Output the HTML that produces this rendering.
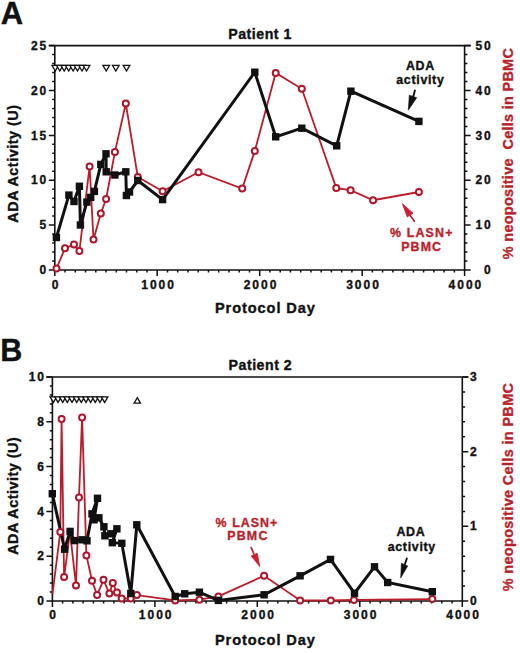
<!DOCTYPE html>
<html><head><meta charset="utf-8"><title>ADA activity and LASN+ PBMC</title>
<style>
html,body{margin:0;padding:0;background:#fff;}
body{width:520px;height:653px;overflow:hidden;}
svg{display:block;font-family:"Liberation Sans",sans-serif;}
</style></head>
<body>
<svg width="520" height="653" viewBox="0 0 520 653">
<rect width="520" height="653" fill="#fff"/>
<path d="M54.8 45.6V270H464.6V45.6" fill="none" stroke="#111" stroke-width="1.6"/>
<path d="M48.8 45.6H470.6" fill="none" stroke="#111" stroke-width="1.6"/>
<path d="M54.8 270v6 M65 270v2.6 M75.3 270v2.6 M85.5 270v2.6 M95.8 270v2.6 M106 270v2.6 M116.3 270v2.6 M126.5 270v2.6 M136.8 270v2.6 M147 270v2.6 M157.2 270v6 M167.5 270v2.6 M177.7 270v2.6 M188 270v2.6 M198.2 270v2.6 M208.5 270v2.6 M218.7 270v2.6 M229 270v2.6 M239.2 270v2.6 M249.5 270v2.6 M259.7 270v6 M269.9 270v2.6 M280.2 270v2.6 M290.4 270v2.6 M300.7 270v2.6 M310.9 270v2.6 M321.2 270v2.6 M331.4 270v2.6 M341.7 270v2.6 M351.9 270v2.6 M362.2 270v6 M372.4 270v2.6 M382.6 270v2.6 M392.9 270v2.6 M403.1 270v2.6 M413.4 270v2.6 M423.6 270v2.6 M433.9 270v2.6 M444.1 270v2.6 M454.4 270v2.6 M464.6 270v6 M54.8 261h-2.6 M54.8 252h-2.6 M54.8 243.1h-2.6 M54.8 234.1h-2.6 M54.8 216.1h-2.6 M54.8 207.2h-2.6 M54.8 198.2h-2.6 M54.8 189.2h-2.6 M54.8 171.3h-2.6 M54.8 162.3h-2.6 M54.8 153.3h-2.6 M54.8 144.3h-2.6 M54.8 126.4h-2.6 M54.8 117.4h-2.6 M54.8 108.4h-2.6 M54.8 99.5h-2.6 M54.8 81.5h-2.6 M54.8 72.5h-2.6 M54.8 63.6h-2.6 M54.8 54.6h-2.6 M54.8 270h-6 M54.8 225.1h-6 M54.8 180.2h-6 M54.8 135.4h-6 M54.8 90.5h-6 M54.8 45.6h-6 M464.6 261h2.8 M464.6 252h2.8 M464.6 243.1h2.8 M464.6 234.1h2.8 M464.6 216.1h2.8 M464.6 207.2h2.8 M464.6 198.2h2.8 M464.6 189.2h2.8 M464.6 171.3h2.8 M464.6 162.3h2.8 M464.6 153.3h2.8 M464.6 144.3h2.8 M464.6 126.4h2.8 M464.6 117.4h2.8 M464.6 108.4h2.8 M464.6 99.5h2.8 M464.6 81.5h2.8 M464.6 72.5h2.8 M464.6 63.6h2.8 M464.6 54.6h2.8 M464.6 270h6 M464.6 225.1h6 M464.6 180.2h6 M464.6 135.4h6 M464.6 90.5h6 M464.6 45.6h6" fill="none" stroke="#111" stroke-width="1.5"/>
<polyline points="56.5,268.6 65,248.2 74,244.6 79.4,251 89.6,166.4 93.5,239.6 100.8,213.5 106.1,199 114.9,152.1 125.8,103.5 137.8,177 162.6,191.2 198.5,172.2 242.2,188.5 254.8,150.9 275.7,73 301.8,88.8 336.3,188.1 350.6,190.2 373.1,200.2 418.9,192" fill="none" stroke="#bc1c29" stroke-width="1.8" stroke-linejoin="miter" stroke-miterlimit="3"/>
<polyline points="56.4,237.5 68.9,195.1 74,201.5 79.4,186.3 80.4,225 86.9,202.1 90.7,197.4 94.4,191.4 100.8,164.4 106,153.8 106.2,171.8 114.9,175 125.8,171.8 126.4,195.5 129.5,192 137.8,180.5 162.6,199.6 254.8,72.2 275.7,136.8 301.8,128.2 336.7,145.8 350.9,91.2 418.9,121.4" fill="none" stroke="#111" stroke-width="3.0" stroke-linejoin="miter" stroke-miterlimit="3"/>
<circle cx="56.5" cy="268.6" r="3.0" fill="#fff" stroke="#ae162c" stroke-width="2.0"/>
<circle cx="65" cy="248.2" r="3.0" fill="#fff" stroke="#ae162c" stroke-width="2.0"/>
<circle cx="74" cy="244.6" r="3.0" fill="#fff" stroke="#ae162c" stroke-width="2.0"/>
<circle cx="79.4" cy="251" r="3.0" fill="#fff" stroke="#ae162c" stroke-width="2.0"/>
<circle cx="89.6" cy="166.4" r="3.0" fill="#fff" stroke="#ae162c" stroke-width="2.0"/>
<circle cx="93.5" cy="239.6" r="3.0" fill="#fff" stroke="#ae162c" stroke-width="2.0"/>
<circle cx="100.8" cy="213.5" r="3.0" fill="#fff" stroke="#ae162c" stroke-width="2.0"/>
<circle cx="106.1" cy="199" r="3.0" fill="#fff" stroke="#ae162c" stroke-width="2.0"/>
<circle cx="114.9" cy="152.1" r="3.0" fill="#fff" stroke="#ae162c" stroke-width="2.0"/>
<circle cx="125.8" cy="103.5" r="3.0" fill="#fff" stroke="#ae162c" stroke-width="2.0"/>
<circle cx="137.8" cy="177" r="3.0" fill="#fff" stroke="#ae162c" stroke-width="2.0"/>
<circle cx="162.6" cy="191.2" r="3.0" fill="#fff" stroke="#ae162c" stroke-width="2.0"/>
<circle cx="198.5" cy="172.2" r="3.0" fill="#fff" stroke="#ae162c" stroke-width="2.0"/>
<circle cx="242.2" cy="188.5" r="3.0" fill="#fff" stroke="#ae162c" stroke-width="2.0"/>
<circle cx="254.8" cy="150.9" r="3.0" fill="#fff" stroke="#ae162c" stroke-width="2.0"/>
<circle cx="275.7" cy="73" r="3.0" fill="#fff" stroke="#ae162c" stroke-width="2.0"/>
<circle cx="301.8" cy="88.8" r="3.0" fill="#fff" stroke="#ae162c" stroke-width="2.0"/>
<circle cx="336.3" cy="188.1" r="3.0" fill="#fff" stroke="#ae162c" stroke-width="2.0"/>
<circle cx="350.6" cy="190.2" r="3.0" fill="#fff" stroke="#ae162c" stroke-width="2.0"/>
<circle cx="373.1" cy="200.2" r="3.0" fill="#fff" stroke="#ae162c" stroke-width="2.0"/>
<circle cx="418.9" cy="192" r="3.0" fill="#fff" stroke="#ae162c" stroke-width="2.0"/>
<rect x="52.7" y="233.8" width="7.4" height="7.4" fill="#111"/>
<rect x="65.2" y="191.4" width="7.4" height="7.4" fill="#111"/>
<rect x="70.3" y="197.8" width="7.4" height="7.4" fill="#111"/>
<rect x="75.7" y="182.6" width="7.4" height="7.4" fill="#111"/>
<rect x="76.7" y="221.3" width="7.4" height="7.4" fill="#111"/>
<rect x="83.2" y="198.4" width="7.4" height="7.4" fill="#111"/>
<rect x="87" y="193.7" width="7.4" height="7.4" fill="#111"/>
<rect x="90.7" y="187.7" width="7.4" height="7.4" fill="#111"/>
<rect x="97.1" y="160.7" width="7.4" height="7.4" fill="#111"/>
<rect x="102.3" y="150.1" width="7.4" height="7.4" fill="#111"/>
<rect x="102.5" y="168.1" width="7.4" height="7.4" fill="#111"/>
<rect x="111.2" y="171.3" width="7.4" height="7.4" fill="#111"/>
<rect x="122.1" y="168.1" width="7.4" height="7.4" fill="#111"/>
<rect x="122.7" y="191.8" width="7.4" height="7.4" fill="#111"/>
<rect x="125.8" y="188.3" width="7.4" height="7.4" fill="#111"/>
<rect x="134.1" y="176.8" width="7.4" height="7.4" fill="#111"/>
<rect x="158.9" y="195.9" width="7.4" height="7.4" fill="#111"/>
<rect x="251.1" y="68.5" width="7.4" height="7.4" fill="#111"/>
<rect x="272" y="133.1" width="7.4" height="7.4" fill="#111"/>
<rect x="298.1" y="124.5" width="7.4" height="7.4" fill="#111"/>
<rect x="333" y="142.1" width="7.4" height="7.4" fill="#111"/>
<rect x="347.2" y="87.5" width="7.4" height="7.4" fill="#111"/>
<rect x="415.2" y="117.7" width="7.4" height="7.4" fill="#111"/>
<path d="M52 65.4H58.6L55.3 71Z" fill="#fff" stroke="#111" stroke-width="1.3" stroke-linejoin="miter"/>
<path d="M56.5 65.4H63L59.8 71Z" fill="#fff" stroke="#111" stroke-width="1.3" stroke-linejoin="miter"/>
<path d="M60.9 65.4H67.5L64.2 71Z" fill="#fff" stroke="#111" stroke-width="1.3" stroke-linejoin="miter"/>
<path d="M65.4 65.4H72L68.7 71Z" fill="#fff" stroke="#111" stroke-width="1.3" stroke-linejoin="miter"/>
<path d="M69.8 65.4H76.4L73.1 71Z" fill="#fff" stroke="#111" stroke-width="1.3" stroke-linejoin="miter"/>
<path d="M74.2 65.4H80.8L77.5 71Z" fill="#fff" stroke="#111" stroke-width="1.3" stroke-linejoin="miter"/>
<path d="M78.7 65.4H85.3L82 71Z" fill="#fff" stroke="#111" stroke-width="1.3" stroke-linejoin="miter"/>
<path d="M83.2 65.4H89.8L86.5 71Z" fill="#fff" stroke="#111" stroke-width="1.3" stroke-linejoin="miter"/>
<path d="M102.9 65.4H109.5L106.2 71Z" fill="#fff" stroke="#111" stroke-width="1.3" stroke-linejoin="miter"/>
<path d="M112.5 65.4H119.1L115.8 71Z" fill="#fff" stroke="#111" stroke-width="1.3" stroke-linejoin="miter"/>
<path d="M123.2 65.4H129.8L126.5 71Z" fill="#fff" stroke="#111" stroke-width="1.3" stroke-linejoin="miter"/>
<text x="12" y="24" font-size="31" text-anchor="middle" fill="#111" font-weight="bold" stroke="#111" stroke-width="0.35">A</text>
<text x="260.1" y="38.6" font-size="14.2" text-anchor="middle" fill="#111" font-weight="bold" letter-spacing="0.5" stroke="#111" stroke-width="0.35">Patient 1</text>
<text x="48.3" y="274.1" font-size="12" text-anchor="end" fill="#111" font-weight="bold" letter-spacing="2.0" stroke="#111" stroke-width="0.35">0</text>
<text x="48.3" y="229.2" font-size="12" text-anchor="end" fill="#111" font-weight="bold" letter-spacing="2.0" stroke="#111" stroke-width="0.35">5</text>
<text x="48.3" y="184.3" font-size="12" text-anchor="end" fill="#111" font-weight="bold" letter-spacing="2.0" stroke="#111" stroke-width="0.35">10</text>
<text x="48.3" y="139.5" font-size="12" text-anchor="end" fill="#111" font-weight="bold" letter-spacing="2.0" stroke="#111" stroke-width="0.35">15</text>
<text x="48.3" y="94.6" font-size="12" text-anchor="end" fill="#111" font-weight="bold" letter-spacing="2.0" stroke="#111" stroke-width="0.35">20</text>
<text x="48.3" y="49.7" font-size="12" text-anchor="end" fill="#111" font-weight="bold" letter-spacing="2.0" stroke="#111" stroke-width="0.35">25</text>
<text x="492.8" y="274.1" font-size="12" text-anchor="end" fill="#111" font-weight="bold" letter-spacing="2.0" stroke="#111" stroke-width="0.35">0</text>
<text x="492.8" y="229.2" font-size="12" text-anchor="end" fill="#111" font-weight="bold" letter-spacing="2.0" stroke="#111" stroke-width="0.35">10</text>
<text x="492.8" y="184.3" font-size="12" text-anchor="end" fill="#111" font-weight="bold" letter-spacing="2.0" stroke="#111" stroke-width="0.35">20</text>
<text x="492.8" y="139.5" font-size="12" text-anchor="end" fill="#111" font-weight="bold" letter-spacing="2.0" stroke="#111" stroke-width="0.35">30</text>
<text x="492.8" y="94.6" font-size="12" text-anchor="end" fill="#111" font-weight="bold" letter-spacing="2.0" stroke="#111" stroke-width="0.35">40</text>
<text x="492.8" y="49.7" font-size="12" text-anchor="end" fill="#111" font-weight="bold" letter-spacing="2.0" stroke="#111" stroke-width="0.35">50</text>
<text x="56.1" y="288.5" font-size="12" text-anchor="middle" fill="#111" font-weight="bold" letter-spacing="2.0" stroke="#111" stroke-width="0.35">0</text>
<text x="158.6" y="288.5" font-size="12" text-anchor="middle" fill="#111" font-weight="bold" letter-spacing="2.0" stroke="#111" stroke-width="0.35">1000</text>
<text x="261" y="288.5" font-size="12" text-anchor="middle" fill="#111" font-weight="bold" letter-spacing="2.0" stroke="#111" stroke-width="0.35">2000</text>
<text x="363.5" y="288.5" font-size="12" text-anchor="middle" fill="#111" font-weight="bold" letter-spacing="2.0" stroke="#111" stroke-width="0.35">3000</text>
<text x="465.9" y="288.5" font-size="12" text-anchor="middle" fill="#111" font-weight="bold" letter-spacing="2.0" stroke="#111" stroke-width="0.35">4000</text>
<text x="265.4" y="313" font-size="14.6" text-anchor="middle" fill="#111" font-weight="bold" letter-spacing="0.9" stroke="#111" stroke-width="0.35">Protocol Day</text>
<text x="18.6" y="163.8" font-size="14.4" text-anchor="middle" fill="#111" font-weight="bold" letter-spacing="0.5" stroke="#111" stroke-width="0.35" transform="rotate(-90 18.4 163.8)">ADA Activity (U)</text>
<text x="513.5" y="153.7" font-size="14.4" text-anchor="middle" fill="#bb1f2b" font-weight="bold" letter-spacing="0.32" stroke="#bb1f2b" stroke-width="0.35" transform="rotate(-90 513.3 153.7)">% neopositive &#160;Cells in PBMC</text>
<text x="420.4" y="69.8" font-size="12.4" text-anchor="middle" fill="#111" font-weight="bold" letter-spacing="0.7" stroke="#111" stroke-width="0.35">ADA</text>
<text x="420.4" y="84" font-size="12.4" text-anchor="middle" fill="#111" font-weight="bold" letter-spacing="0.7" stroke="#111" stroke-width="0.35">activity</text>
<path d="M414.9 90.4L413.2 96.8" stroke="#111" stroke-width="1.9" stroke-linecap="round" fill="none"/>
<path d="M408.3 110.2L409.3 95.2L416.7 97.7Z" fill="#111" stroke="#111" stroke-width="0.6" stroke-linejoin="round"/>
<text x="421.8" y="236.6" font-size="12.4" text-anchor="middle" fill="#bb1f2b" font-weight="bold" letter-spacing="1.15" stroke="#bb1f2b" stroke-width="0.35">% LASN+</text>
<text x="421.7" y="251" font-size="12.4" text-anchor="middle" fill="#bb1f2b" font-weight="bold" letter-spacing="1.1" stroke="#bb1f2b" stroke-width="0.35">PBMC</text>
<path d="M414.4 221.3L410.2 215.5" stroke="#bb1f2b" stroke-width="1.6" stroke-linecap="round" fill="none"/>
<path d="M402.4 203.7L413.0 213.2L407.2 216.9Z" fill="#d01e36" stroke="#bb1f2b" stroke-width="0.8" stroke-linejoin="round"/>
<path d="M52.4 377V601H462.3V377" fill="none" stroke="#111" stroke-width="1.6"/>
<path d="M46.4 377H468.3" fill="none" stroke="#111" stroke-width="1.6"/>
<path d="M52.4 601v6 M62.6 601v2.6 M72.9 601v2.6 M83.1 601v2.6 M93.4 601v2.6 M103.6 601v2.6 M113.9 601v2.6 M124.1 601v2.6 M134.4 601v2.6 M144.6 601v2.6 M154.9 601v6 M165.1 601v2.6 M175.4 601v2.6 M185.6 601v2.6 M195.9 601v2.6 M206.1 601v2.6 M216.4 601v2.6 M226.6 601v2.6 M236.9 601v2.6 M247.1 601v2.6 M257.3 601v6 M267.6 601v2.6 M277.8 601v2.6 M288.1 601v2.6 M298.3 601v2.6 M308.6 601v2.6 M318.8 601v2.6 M329.1 601v2.6 M339.3 601v2.6 M349.6 601v2.6 M359.8 601v6 M370.1 601v2.6 M380.3 601v2.6 M390.6 601v2.6 M400.8 601v2.6 M411.1 601v2.6 M421.3 601v2.6 M431.6 601v2.6 M441.8 601v2.6 M452.1 601v2.6 M462.3 601v6 M52.4 592h-2.6 M52.4 583.1h-2.6 M52.4 574.1h-2.6 M52.4 565.2h-2.6 M52.4 547.2h-2.6 M52.4 538.3h-2.6 M52.4 529.3h-2.6 M52.4 520.4h-2.6 M52.4 502.4h-2.6 M52.4 493.5h-2.6 M52.4 484.5h-2.6 M52.4 475.6h-2.6 M52.4 457.6h-2.6 M52.4 448.7h-2.6 M52.4 439.7h-2.6 M52.4 430.8h-2.6 M52.4 412.8h-2.6 M52.4 403.9h-2.6 M52.4 394.9h-2.6 M52.4 386h-2.6 M52.4 601h-6 M52.4 556.2h-6 M52.4 511.4h-6 M52.4 466.6h-6 M52.4 421.8h-6 M52.4 377h-6 M462.3 586.1h2.8 M462.3 571.1h2.8 M462.3 556.2h2.8 M462.3 541.3h2.8 M462.3 511.4h2.8 M462.3 496.5h2.8 M462.3 481.5h2.8 M462.3 466.6h2.8 M462.3 436.7h2.8 M462.3 421.8h2.8 M462.3 406.9h2.8 M462.3 391.9h2.8 M462.3 601h6 M462.3 526.3h6 M462.3 451.7h6 M462.3 377h6" fill="none" stroke="#111" stroke-width="1.5"/>
<polyline points="52.5,594 60.3,532 61.6,418.9 64.1,577 70,532 76,585.5 79,497.4 82.1,417.4 86.4,555.5 92,580.7 97.1,595 103.5,579.8 109.4,593.5 112.8,583.1 117,592.6 121.6,598.5 130.8,598.5 136.8,595.1 175.2,600.4 199.4,599.7 218.4,596.4 264.1,575.8 300.1,600.4 330.8,600.5 354,600 432.3,599.1" fill="none" stroke="#bc1c29" stroke-width="1.8" stroke-linejoin="miter" stroke-miterlimit="3"/>
<polyline points="52.3,493.7 64.6,549.2 70.1,531.4 74.4,540.6 82,539.8 87,540.8 92,513.9 97.5,498.3 94,519.8 98.9,517.8 103.9,526.8 104.9,535.8 110.9,533.8 116.9,528.8 112.3,542.7 121.8,543.3 130.8,593.5 136.8,524.8 175.2,596.5 184.7,593.8 199.4,592.2 218.4,600.4 264.1,594.8 300.1,575.8 330.5,559.4 354.5,593.2 374.5,566.8 387.7,582.5 432.3,591.7" fill="none" stroke="#111" stroke-width="3.0" stroke-linejoin="miter" stroke-miterlimit="3"/>
<circle cx="60.3" cy="532" r="3.0" fill="#fff" stroke="#ae162c" stroke-width="2.0"/>
<circle cx="61.6" cy="418.9" r="3.0" fill="#fff" stroke="#ae162c" stroke-width="2.0"/>
<circle cx="64.1" cy="577" r="3.0" fill="#fff" stroke="#ae162c" stroke-width="2.0"/>
<circle cx="76" cy="585.5" r="3.0" fill="#fff" stroke="#ae162c" stroke-width="2.0"/>
<circle cx="79" cy="497.4" r="3.0" fill="#fff" stroke="#ae162c" stroke-width="2.0"/>
<circle cx="82.1" cy="417.4" r="3.0" fill="#fff" stroke="#ae162c" stroke-width="2.0"/>
<circle cx="86.4" cy="555.5" r="3.0" fill="#fff" stroke="#ae162c" stroke-width="2.0"/>
<circle cx="92" cy="580.7" r="3.0" fill="#fff" stroke="#ae162c" stroke-width="2.0"/>
<circle cx="97.1" cy="595" r="3.0" fill="#fff" stroke="#ae162c" stroke-width="2.0"/>
<circle cx="103.5" cy="579.8" r="3.0" fill="#fff" stroke="#ae162c" stroke-width="2.0"/>
<circle cx="109.4" cy="593.5" r="3.0" fill="#fff" stroke="#ae162c" stroke-width="2.0"/>
<circle cx="112.8" cy="583.1" r="3.0" fill="#fff" stroke="#ae162c" stroke-width="2.0"/>
<circle cx="117" cy="592.6" r="3.0" fill="#fff" stroke="#ae162c" stroke-width="2.0"/>
<circle cx="121.6" cy="598.5" r="3.0" fill="#fff" stroke="#ae162c" stroke-width="2.0"/>
<circle cx="130.8" cy="598.5" r="3.0" fill="#fff" stroke="#ae162c" stroke-width="2.0"/>
<circle cx="136.8" cy="595.1" r="3.0" fill="#fff" stroke="#ae162c" stroke-width="2.0"/>
<circle cx="175.2" cy="600.4" r="3.0" fill="#fff" stroke="#ae162c" stroke-width="2.0"/>
<circle cx="199.4" cy="599.7" r="3.0" fill="#fff" stroke="#ae162c" stroke-width="2.0"/>
<circle cx="218.4" cy="596.4" r="3.0" fill="#fff" stroke="#ae162c" stroke-width="2.0"/>
<circle cx="264.1" cy="575.8" r="3.0" fill="#fff" stroke="#ae162c" stroke-width="2.0"/>
<circle cx="300.1" cy="600.4" r="3.0" fill="#fff" stroke="#ae162c" stroke-width="2.0"/>
<circle cx="330.8" cy="600.5" r="3.0" fill="#fff" stroke="#ae162c" stroke-width="2.0"/>
<circle cx="354" cy="600" r="3.0" fill="#fff" stroke="#ae162c" stroke-width="2.0"/>
<circle cx="432.3" cy="599.1" r="3.0" fill="#fff" stroke="#ae162c" stroke-width="2.0"/>
<rect x="48.6" y="490" width="7.4" height="7.4" fill="#111"/>
<rect x="60.9" y="545.5" width="7.4" height="7.4" fill="#111"/>
<rect x="66.4" y="527.7" width="7.4" height="7.4" fill="#111"/>
<rect x="70.7" y="536.9" width="7.4" height="7.4" fill="#111"/>
<rect x="78.3" y="536.1" width="7.4" height="7.4" fill="#111"/>
<rect x="83.3" y="537.1" width="7.4" height="7.4" fill="#111"/>
<rect x="88.3" y="510.2" width="7.4" height="7.4" fill="#111"/>
<rect x="93.8" y="494.6" width="7.4" height="7.4" fill="#111"/>
<rect x="90.3" y="516.1" width="7.4" height="7.4" fill="#111"/>
<rect x="95.2" y="514.1" width="7.4" height="7.4" fill="#111"/>
<rect x="100.2" y="523.1" width="7.4" height="7.4" fill="#111"/>
<rect x="101.2" y="532.1" width="7.4" height="7.4" fill="#111"/>
<rect x="107.2" y="530.1" width="7.4" height="7.4" fill="#111"/>
<rect x="113.2" y="525.1" width="7.4" height="7.4" fill="#111"/>
<rect x="108.6" y="539" width="7.4" height="7.4" fill="#111"/>
<rect x="118.1" y="539.6" width="7.4" height="7.4" fill="#111"/>
<rect x="127.1" y="589.8" width="7.4" height="7.4" fill="#111"/>
<rect x="133.1" y="521.1" width="7.4" height="7.4" fill="#111"/>
<rect x="171.5" y="592.8" width="7.4" height="7.4" fill="#111"/>
<rect x="181" y="590.1" width="7.4" height="7.4" fill="#111"/>
<rect x="195.7" y="588.5" width="7.4" height="7.4" fill="#111"/>
<rect x="214.7" y="596.7" width="7.4" height="7.4" fill="#111"/>
<rect x="260.4" y="591.1" width="7.4" height="7.4" fill="#111"/>
<rect x="296.4" y="572.1" width="7.4" height="7.4" fill="#111"/>
<rect x="326.8" y="555.7" width="7.4" height="7.4" fill="#111"/>
<rect x="350.8" y="589.5" width="7.4" height="7.4" fill="#111"/>
<rect x="370.8" y="563.1" width="7.4" height="7.4" fill="#111"/>
<rect x="384" y="578.8" width="7.4" height="7.4" fill="#111"/>
<rect x="428.6" y="588" width="7.4" height="7.4" fill="#111"/>
<path d="M50.1 396.8H56.7L53.4 402.4Z" fill="#fff" stroke="#111" stroke-width="1.3" stroke-linejoin="miter"/>
<path d="M54.8 396.8H61.3L58 402.4Z" fill="#fff" stroke="#111" stroke-width="1.3" stroke-linejoin="miter"/>
<path d="M59.4 396.8H66L62.7 402.4Z" fill="#fff" stroke="#111" stroke-width="1.3" stroke-linejoin="miter"/>
<path d="M64 396.8H70.6L67.3 402.4Z" fill="#fff" stroke="#111" stroke-width="1.3" stroke-linejoin="miter"/>
<path d="M68.7 396.8H75.3L72 402.4Z" fill="#fff" stroke="#111" stroke-width="1.3" stroke-linejoin="miter"/>
<path d="M73.4 396.8H80L76.7 402.4Z" fill="#fff" stroke="#111" stroke-width="1.3" stroke-linejoin="miter"/>
<path d="M78 396.8H84.6L81.3 402.4Z" fill="#fff" stroke="#111" stroke-width="1.3" stroke-linejoin="miter"/>
<path d="M82.7 396.8H89.2L86 402.4Z" fill="#fff" stroke="#111" stroke-width="1.3" stroke-linejoin="miter"/>
<path d="M87.3 396.8H93.9L90.6 402.4Z" fill="#fff" stroke="#111" stroke-width="1.3" stroke-linejoin="miter"/>
<path d="M92 396.8H98.5L95.2 402.4Z" fill="#fff" stroke="#111" stroke-width="1.3" stroke-linejoin="miter"/>
<path d="M96.6 396.8H103.2L99.9 402.4Z" fill="#fff" stroke="#111" stroke-width="1.3" stroke-linejoin="miter"/>
<path d="M101.3 396.8H107.9L104.6 402.4Z" fill="#fff" stroke="#111" stroke-width="1.3" stroke-linejoin="miter"/>
<path d="M137.3 397.7L140.5 403.1H134.1Z" fill="#fff" stroke="#111" stroke-width="1.3" stroke-linejoin="miter"/>
<text x="11.3" y="361.2" font-size="30.5" text-anchor="middle" fill="#111" font-weight="bold" stroke="#111" stroke-width="0.35">B</text>
<text x="260.4" y="370" font-size="14.2" text-anchor="middle" fill="#111" font-weight="bold" letter-spacing="0.5" stroke="#111" stroke-width="0.35">Patient 2</text>
<text x="46" y="605.1" font-size="12" text-anchor="end" fill="#111" font-weight="bold" letter-spacing="2.0" stroke="#111" stroke-width="0.35">0</text>
<text x="46" y="560.3" font-size="12" text-anchor="end" fill="#111" font-weight="bold" letter-spacing="2.0" stroke="#111" stroke-width="0.35">2</text>
<text x="46" y="515.5" font-size="12" text-anchor="end" fill="#111" font-weight="bold" letter-spacing="2.0" stroke="#111" stroke-width="0.35">4</text>
<text x="46" y="470.7" font-size="12" text-anchor="end" fill="#111" font-weight="bold" letter-spacing="2.0" stroke="#111" stroke-width="0.35">6</text>
<text x="46" y="425.9" font-size="12" text-anchor="end" fill="#111" font-weight="bold" letter-spacing="2.0" stroke="#111" stroke-width="0.35">8</text>
<text x="46" y="381.1" font-size="12" text-anchor="end" fill="#111" font-weight="bold" letter-spacing="2.0" stroke="#111" stroke-width="0.35">10</text>
<text x="470" y="605.1" font-size="12" text-anchor="start" fill="#111" font-weight="bold" letter-spacing="2.0" stroke="#111" stroke-width="0.35">0</text>
<text x="470" y="530.4" font-size="12" text-anchor="start" fill="#111" font-weight="bold" letter-spacing="2.0" stroke="#111" stroke-width="0.35">1</text>
<text x="470" y="455.8" font-size="12" text-anchor="start" fill="#111" font-weight="bold" letter-spacing="2.0" stroke="#111" stroke-width="0.35">2</text>
<text x="470" y="381.1" font-size="12" text-anchor="start" fill="#111" font-weight="bold" letter-spacing="2.0" stroke="#111" stroke-width="0.35">3</text>
<text x="53.7" y="619.4" font-size="12" text-anchor="middle" fill="#111" font-weight="bold" letter-spacing="2.0" stroke="#111" stroke-width="0.35">0</text>
<text x="156.2" y="619.4" font-size="12" text-anchor="middle" fill="#111" font-weight="bold" letter-spacing="2.0" stroke="#111" stroke-width="0.35">1000</text>
<text x="258.7" y="619.4" font-size="12" text-anchor="middle" fill="#111" font-weight="bold" letter-spacing="2.0" stroke="#111" stroke-width="0.35">2000</text>
<text x="361.1" y="619.4" font-size="12" text-anchor="middle" fill="#111" font-weight="bold" letter-spacing="2.0" stroke="#111" stroke-width="0.35">3000</text>
<text x="463.6" y="619.4" font-size="12" text-anchor="middle" fill="#111" font-weight="bold" letter-spacing="2.0" stroke="#111" stroke-width="0.35">4000</text>
<text x="265.4" y="645" font-size="14.6" text-anchor="middle" fill="#111" font-weight="bold" letter-spacing="0.9" stroke="#111" stroke-width="0.35">Protocol Day</text>
<text x="18.6" y="496" font-size="14.4" text-anchor="middle" fill="#111" font-weight="bold" letter-spacing="0.5" stroke="#111" stroke-width="0.35" transform="rotate(-90 18.4 496)">ADA Activity (U)</text>
<text x="513.2" y="487.2" font-size="14.4" text-anchor="middle" fill="#bb1f2b" font-weight="bold" letter-spacing="0.38" stroke="#bb1f2b" stroke-width="0.35" transform="rotate(-90 513 487.2)">% neopositive Cells in PBMC</text>
<text x="247" y="526.8" font-size="12.4" text-anchor="middle" fill="#bb1f2b" font-weight="bold" letter-spacing="1.05" stroke="#bb1f2b" stroke-width="0.35">% LASN+</text>
<text x="247.9" y="539.9" font-size="12.4" text-anchor="middle" fill="#bb1f2b" font-weight="bold" letter-spacing="1.2" stroke="#bb1f2b" stroke-width="0.35">PBMC</text>
<path d="M251.2 547.6L253.8 553.6" stroke="#bb1f2b" stroke-width="1.6" stroke-linecap="round" fill="none"/>
<path d="M259.8 566.6L251.2 555.9L257.2 553.3Z" fill="#d01e36" stroke="#bb1f2b" stroke-width="0.8" stroke-linejoin="round"/>
<text x="410.9" y="536.3" font-size="12.4" text-anchor="middle" fill="#111" font-weight="bold" letter-spacing="0.7" stroke="#111" stroke-width="0.35">ADA</text>
<text x="411.8" y="551" font-size="12.4" text-anchor="middle" fill="#111" font-weight="bold" letter-spacing="0.7" stroke="#111" stroke-width="0.35">activity</text>
<path d="M406.8 558.5L405.0 564.0" stroke="#111" stroke-width="1.9" stroke-linecap="round" fill="none"/>
<path d="M400.7 577.9L401.4 563.3L407.7 565.9Z" fill="#111" stroke="#111" stroke-width="0.6" stroke-linejoin="round"/>
</svg>
</body></html>
